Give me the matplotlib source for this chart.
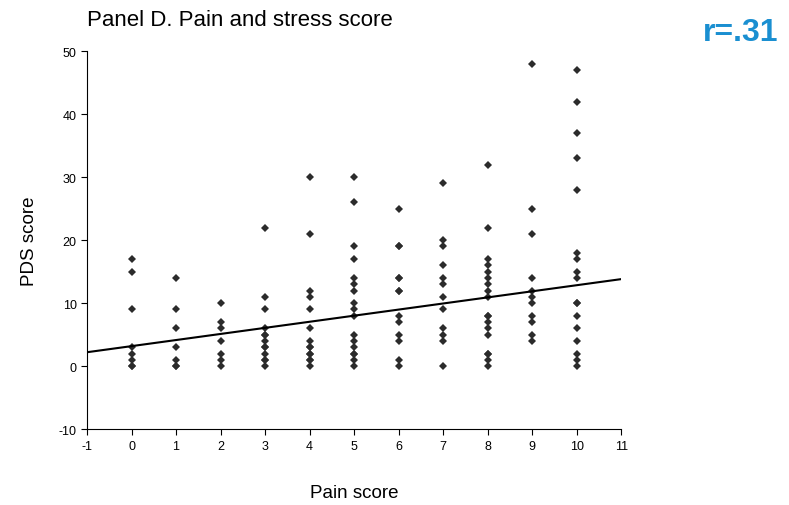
import numpy as np
import matplotlib.pyplot as plt

plt.rcParams['font.family'] = ['Liberation Sans', 'DejaVu Sans']
plt.rcParams['axes.unicode_minus'] = False

# PDS score values for each pain score
pain_scores = list(range(11))
pds_by_pain = [
    [17, 15, 9, 3, 2, 1, 0, 0],
    [14, 9, 6, 3, 1, 0, 0],
    [10, 7, 6, 4, 2, 1, 0],
    [22, 11, 9, 6, 5, 5, 4, 3, 3, 2, 1, 1, 0],
    [30, 21, 12, 11, 9, 6, 4, 3, 3, 2, 2, 1, 1, 0],
    [30, 26, 19, 17, 14, 13, 12, 10, 9, 8, 5, 4, 3, 2, 2, 1, 0],
    [25, 19, 19, 14, 14, 12, 12, 8, 7, 5, 4, 1, 0],
    [29, 20, 19, 16, 14, 13, 11, 9, 6, 5, 4, 0],
    [32, 22, 17, 16, 15, 14, 13, 12, 11, 8, 8, 7, 6, 5, 2, 2, 1, 0],
    [48, 25, 21, 14, 12, 11, 10, 8, 7, 5, 4],
    [47, 42, 37, 33, 28, 18, 17, 15, 14, 10, 10, 8, 6, 4, 2, 1, 0],
]

# regression line
intercept = 3.17
slope = 0.967

x = []
y = []
for p, vals in zip(pain_scores, pds_by_pain):
    x += [p] * len(vals)
    y += vals

fig = plt.figure(figsize=(7.89, 5.06), dpi=100)
ax = fig.add_axes([0.1103, 0.150, 0.677, 0.747])

ax.plot(x, y, 'D', color='#2b2b2b', markersize=3.6, markeredgewidth=0)

line_x = np.array([-1, 11])
ax.plot(line_x, intercept + slope * line_x, color='black', linewidth=1.5)

ax.set_xlim(-1, 11)
ax.set_ylim(-10, 50)
ax.set_xticks(range(-1, 12))
ax.set_yticks(range(-10, 51, 10))
ax.tick_params(labelsize=9, length=4, width=0.8)
ax.spines['top'].set_visible(False)
ax.spines['right'].set_visible(False)

ax.set_xlabel('Pain score', fontsize=13.5)
ax.xaxis.set_label_coords(0.5, -0.169)
ax.xaxis.label.set_va('center')
ax.set_ylabel('PDS score', fontsize=13.5)
ax.yaxis.set_label_coords(-0.107, 0.5)
ax.yaxis.label.set_va('center')

fig.text(87 / 789, 1 - 20 / 506, 'Panel D. Pain and stress score', fontsize=16,
         va='center', ha='left')
fig.text(778 / 789, 1 - 33 / 506, 'r=.31', fontsize=23, fontweight='bold',
         color='#1a8fd1', va='center', ha='right')

fig.savefig('out.png', dpi=100)
